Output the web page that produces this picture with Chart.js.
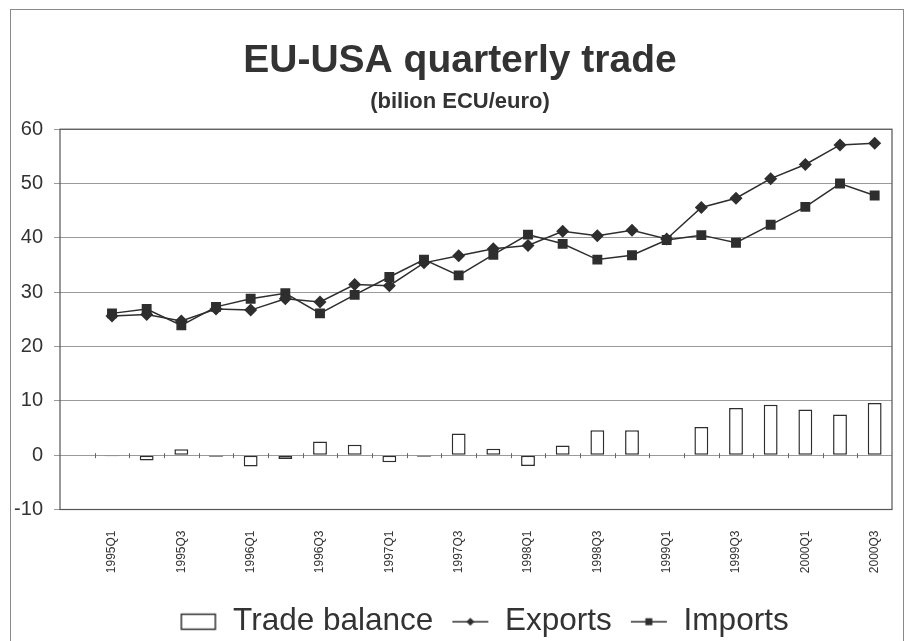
<!DOCTYPE html>
<html>
<head>
<meta charset="utf-8">
<script src="https://cdn.jsdelivr.net/npm/chart.js@4.4.1/dist/chart.umd.min.js"></script>
<style>
    html, body { margin: 0; padding: 0; background: #fff; }
    #wrap { width: 907px; height: 641px; }
</style>
</head>
<body>
<div id="wrap"><canvas id="myChart" width="907" height="641"></canvas></div>
<script>
const quarters = ['1995Q1', '1995Q2', '1995Q3', '1995Q4', '1996Q1', '1996Q2', '1996Q3', '1996Q4',
    '1997Q1', '1997Q2', '1997Q3', '1997Q4', '1998Q1', '1998Q2', '1998Q3', '1998Q4',
    '1999Q1', '1999Q2', '1999Q3', '1999Q4', '2000Q1', '2000Q2', '2000Q3'];
const exportsData = [25.6, 25.9, 24.7, 26.9, 26.7, 28.8, 28.2, 31.4, 31.2, 35.4, 36.7, 38.0,
    38.6, 41.2, 40.4, 41.4, 39.8, 45.6, 47.3, 50.9, 53.5, 57.1, 57.4];
const importsData = [26.1, 26.9, 23.9, 27.3, 28.8, 29.8, 26.1, 29.5, 32.8, 36.0, 33.1, 36.9,
    40.6, 38.9, 36.0, 36.8, 39.6, 40.5, 39.1, 42.4, 45.7, 50.0, 47.8];
const balanceData = [-0.2, -1.0, 1.1, -0.3, -2.1, -0.7, 2.5, 1.9, -1.3, -0.3, 4.0, 1.2,
    -2.0, 1.8, 4.6, 4.6, null, 5.2, 8.7, 9.3, 8.4, 7.5, 9.6];
const yTicks = [-10, 0, 10, 20, 30, 40, 50, 60];

const INK = '#2e2e2e';
const FONT = "'Liberation Sans', Arial, sans-serif";

// the axis has one empty slot before 1995Q1
const labels = [''].concat(quarters);
const pad = arr => [null].concat(arr);

function legendIcon(kind) {
    const c = document.createElement('canvas');
    c.width = 38;
    c.height = 20;
    const g = c.getContext('2d');
    g.strokeStyle = INK;
    g.fillStyle = INK;
    if (kind === 'box') {
        g.fillStyle = '#fff';
        g.lineWidth = 1.5;
        g.fillRect(2, 2.5, 34, 15);
        g.strokeRect(2, 2.5, 34, 15);
        return c;
    }
    g.lineWidth = 1.5;
    g.beginPath();
    g.moveTo(1, 10);
    g.lineTo(37, 10);
    g.stroke();
    g.beginPath();
    if (kind === 'diamond') {
        g.moveTo(19, 6); g.lineTo(23, 10); g.lineTo(19, 14); g.lineTo(15, 10);
    } else {
        g.rect(15.5, 6.5, 7, 7);
    }
    g.closePath();
    g.fill();
    return c;
}
const icons = [legendIcon('box'), legendIcon('diamond'), legendIcon('square')];

const framePlugin = {
    id: 'frames',
    beforeDraw(chart) {
        const c = chart.ctx;
        c.save();
        c.fillStyle = '#fff';
        c.fillRect(0, 0, chart.width, chart.height);
        c.strokeStyle = '#8a8a8a';
        c.lineWidth = 1;
        c.strokeRect(10.5, 9.5, 893, 700);
        c.restore();
    },
    afterLayout(chart) {
        // nudge the title block and legend to where they sit in the original
        chart.boxes.forEach(b => {
            if (b.options && b.options.text !== undefined && b.position === 'top') {
                b.left += 7;
                b.right += 7;
            }
        });
        chart.legend.left += 31;
        chart.legend.right += 31;
        chart.legend.top += 8.5;
        chart.legend.bottom += 8.5;
    },
    afterDatasetsDraw(chart) {
        const c = chart.ctx;
        const a = chart.chartArea;
        const xs = chart.scales.x;
        const ys = chart.scales.y;
        c.save();
        // small category ticks on the zero line
        const step = xs.getPixelForValue(1) - xs.getPixelForValue(0);
        const y0 = ys.getPixelForValue(0);
        c.strokeStyle = '#666';
        c.lineWidth = 1;
        for (let i = 1; i < labels.length; i++) {
            const x = Math.round(xs.getPixelForValue(i) - step / 2) + 0.5;
            c.beginPath();
            c.moveTo(x, y0 - 2);
            c.lineTo(x, y0 + 3);
            c.stroke();
        }
        c.strokeStyle = '#555';
        c.lineWidth = 1.2;
        c.strokeRect(a.left, a.top, a.right - a.left, a.bottom - a.top);
        c.restore();
    }
};

new Chart(document.getElementById('myChart').getContext('2d'), {
    data: {
        labels: labels,
        datasets: [{
            type: 'bar',
            label: 'Trade balance',
            data: pad(balanceData),
            backgroundColor: '#fff',
            borderColor: INK,
            borderWidth: 1.5,
            borderSkipped: false,
            barPercentage: 0.4,
            categoryPercentage: 1
        }, {
            type: 'line',
            label: 'Exports',
            data: pad(exportsData),
            borderColor: INK,
            backgroundColor: INK,
            borderWidth: 1.5,
            pointStyle: 'rectRot',
            pointRadius: 6.5,
            pointBorderWidth: 0,
            fill: false,
            tension: 0
        }, {
            type: 'line',
            label: 'Imports',
            data: pad(importsData),
            borderColor: INK,
            backgroundColor: INK,
            borderWidth: 1.5,
            pointStyle: 'rect',
            pointRadius: 7,
            pointBorderWidth: 0,
            fill: false,
            tension: 0
        }]
    },
    options: {
        responsive: false,
        animation: false,
        layout: {
            padding: { top: 0, left: 14, right: 15, bottom: 2 }
        },
        plugins: {
            title: {
                display: true,
                text: 'EU-USA quarterly trade',
                color: '#333',
                font: { family: FONT, size: 39, weight: 'bold' },
                padding: { top: 38, bottom: 0 }
            },
            subtitle: {
                display: true,
                text: '(bilion ECU/euro)',
                color: '#333',
                font: { family: FONT, size: 22, weight: 'bold' },
                padding: { top: 4, bottom: 14 }
            },
            legend: {
                display: true,
                position: 'bottom',
                labels: {
                    color: '#333',
                    font: { family: FONT, size: 31.5 },
                    usePointStyle: true,
                    pointStyleWidth: 38,
                    padding: 18,
                    generateLabels(chart) {
                        return chart.data.datasets.map((ds, i) => ({
                            text: ds.label,
                            pointStyle: icons[i],
                            fillStyle: '#fff',
                            strokeStyle: INK,
                            lineWidth: 0,
                            fontColor: '#333',
                            datasetIndex: i
                        }));
                    }
                }
            },
            tooltip: { enabled: false }
        },
        scales: {
            x: {
                grid: { display: false },
                border: { display: false },
                ticks: {
                    autoSkip: false,
                    maxRotation: 90,
                    minRotation: 90,
                    padding: 13,
                    color: '#333',
                    font: { family: FONT, size: 12 },
                    callback: function(value, index) {
                        return index % 2 === 1 ? labels[index] : '';
                    }
                },
                afterFit: scale => { scale.height = 70; }
            },
            y: {
                min: -10,
                max: 60,
                afterBuildTicks: scale => {
                    scale.ticks = yTicks.map(v => ({ value: v }));
                },
                grid: {
                    color: '#9a9a9a',
                    lineWidth: 1,
                    tickLength: 6
                },
                border: { display: false },
                ticks: {
                    padding: 11,
                    color: '#333',
                    font: { family: FONT, size: 20 }
                },
                afterFit: scale => { scale.width = 46; }
            }
        }
    },
    plugins: [framePlugin]
});
</script>
</body>
</html>
